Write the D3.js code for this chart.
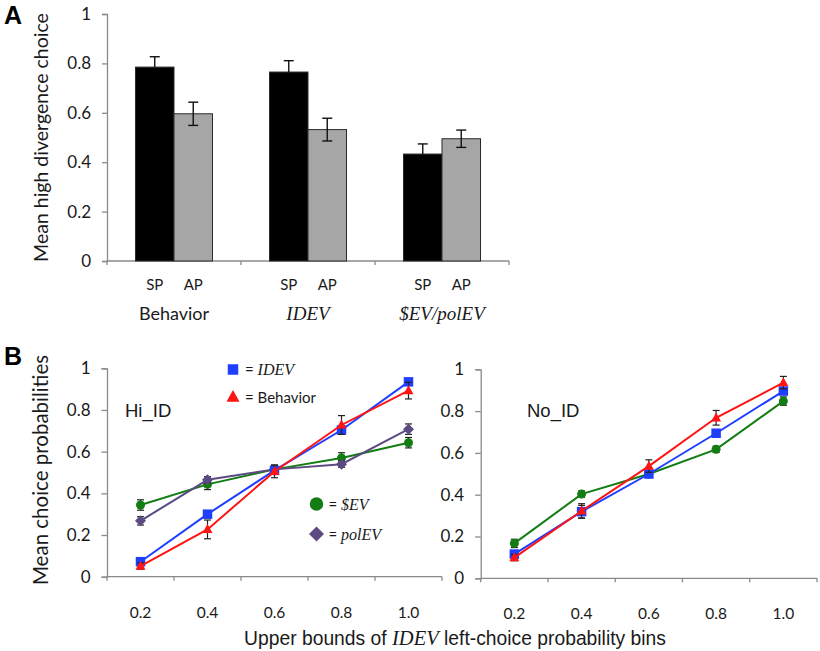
<!DOCTYPE html>
<html><head><meta charset="utf-8">
<script src="https://cdn.jsdelivr.net/npm/d3@7/dist/d3.min.js"></script>
<style>
html,body{margin:0;padding:0;background:#fff;}
svg{display:block;}
</style></head>
<body>
<svg id="chart" width="820" height="651"></svg>
<script>
// ---------- Panel A data ----------
const groupsA = ["Behavior", "IDEV", "$EV/polEV"];
const condsA = ["SP", "AP"];
const spValues = [0.785, 0.765, 0.433];
const spErrors = [0.042, 0.046, 0.041];
const apValues = [0.596, 0.532, 0.495];
const apErrors = [0.047, 0.046, 0.035];
const yTicksA = [0, 0.2, 0.4, 0.6, 0.8, 1];

// ---------- Panel B data ----------
const bins = ["0.2", "0.4", "0.6", "0.8", "1.0"];
const yTicksB = [0, 0.2, 0.4, 0.6, 0.8, 1];
// Hi_ID
const hiIDEV = [0.072, 0.300, 0.510, 0.704, 0.935];
const hiIDEVErr = [0.012, 0.015, 0.015, 0.015, 0.012];
const hiBehavior = [0.051, 0.227, 0.505, 0.728, 0.893];
const hiBehaviorErr = [0.015, 0.045, 0.030, 0.045, 0.040];
const hiSEV = [0.344, 0.443, 0.515, 0.570, 0.643];
const hiSEVErr = [0.025, 0.025, 0.020, 0.025, 0.025];
const hiPolEV = [0.268, 0.465, 0.515, 0.540, 0.708];
const hiPolEVErr = [0.020, 0.015, 0.020, 0.015, 0.025];
// No_ID
const noIDEV = [0.116, 0.319, 0.499, 0.694, 0.896];
const noIDEVErr = [0.015, 0.030, 0.015, 0.015, 0.015];
const noBehavior = [0.099, 0.322, 0.537, 0.768, 0.936];
const noBehaviorErr = [0.015, 0.035, 0.030, 0.035, 0.030];
const noSEV = [0.167, 0.403, 0.499, 0.617, 0.848];
const noSEVErr = [0.020, 0.015, 0.015, 0.015, 0.020];

const svg = d3.select("#chart");
const axisColor = "#8a8a8a";
const tickFont = "Lato, 'Open Sans', sans-serif";
const serif = "'Liberation Serif', 'DejaVu Serif', serif";
const sans = "'Liberation Sans', Arial, sans-serif";

// ====== Panel A ======
const xA = d3.scaleBand().domain(groupsA).range([107, 509]);
const xSub = d3.scaleBand().domain(condsA).range([28.5, 105.5]);
const yA = d3.scaleLinear().domain([0, 1]).range([261, 14]);

function styleAxis(g) {
  g.selectAll("path.domain").attr("stroke", axisColor).attr("stroke-width", 1.3);
  g.selectAll(".tick line").attr("stroke", axisColor).attr("stroke-width", 1.3);
  g.selectAll(".tick text").attr("fill", "#1a1a1a").style("font-family", tickFont);
}

const gYA = svg.append("g").attr("transform", "translate(107,0)")
  .call(d3.axisLeft(yA).tickValues(yTicksA).tickSize(5).tickPadding(11).tickFormat(d3.format("~g")));
styleAxis(gYA);
gYA.selectAll(".tick text").style("font-size", "17px");

// x axis with ticks at group boundaries
const gXA = svg.append("g");
gXA.append("line").attr("x1", xA.range()[0]).attr("x2", xA.range()[1])
  .attr("y1", yA(0)).attr("y2", yA(0)).attr("stroke", axisColor).attr("stroke-width", 1.3);
const boundsA = groupsA.map(g => xA(g)).concat([xA.range()[1]]);
gXA.selectAll("line.tk").data(boundsA).enter().append("line")
  .attr("x1", d => d).attr("x2", d => d).attr("y1", yA(0)).attr("y2", yA(0) + 4)
  .attr("stroke", axisColor).attr("stroke-width", 1.3);

const barData = [];
groupsA.forEach((g, i) => {
  barData.push({g, c: "SP", v: spValues[i], e: spErrors[i]});
  barData.push({g, c: "AP", v: apValues[i], e: apErrors[i]});
});

svg.append("g").selectAll("rect").data(barData).enter().append("rect")
  .attr("x", d => xA(d.g) + xSub(d.c))
  .attr("width", xSub.bandwidth())
  .attr("y", d => yA(d.v))
  .attr("height", d => yA(0) - yA(d.v))
  .attr("fill", d => d.c === "SP" ? "#000" : "#a6a6a6")
  .attr("stroke", "#2a2a2a").attr("stroke-width", 1);

// error bars
const eb = svg.append("g").attr("stroke", "#111").attr("stroke-width", 1.4);
barData.forEach(d => {
  const cx = xA(d.g) + xSub(d.c) + xSub.bandwidth() / 2;
  const lo = d.c === "SP" ? d.v : d.v - d.e;
  eb.append("line").attr("x1", cx).attr("x2", cx).attr("y1", yA(d.v + d.e)).attr("y2", yA(lo));
  eb.append("line").attr("x1", cx - 5).attr("x2", cx + 5).attr("y1", yA(d.v + d.e)).attr("y2", yA(d.v + d.e));
  if (d.c !== "SP")
    eb.append("line").attr("x1", cx - 5).attr("x2", cx + 5).attr("y1", yA(lo)).attr("y2", yA(lo));
});

// condition labels
svg.append("g").selectAll("text").data(barData).enter().append("text")
  .attr("x", d => xA(d.g) + xSub(d.c) + xSub.bandwidth() / 2)
  .attr("y", 290).attr("text-anchor", "middle")
  .style("font-family", tickFont).style("font-size", "15px").attr("fill", "#1a1a1a")
  .text(d => d.c);

// group labels
svg.append("g").selectAll("text").data(groupsA).enter().append("text")
  .attr("x", d => xA(d) + xA.bandwidth() / 2)
  .attr("y", 319.5).attr("text-anchor", "middle")
  .style("font-family", (d, i) => i === 0 ? tickFont : serif)
  .style("font-style", (d, i) => i === 0 ? "normal" : "italic")
  .style("font-size", (d, i) => i === 0 ? "18px" : "19px")
  .attr("fill", "#1a1a1a")
  .text(d => d);

// y title A
svg.append("text").attr("transform", "translate(47.5,137.5) rotate(-90)")
  .attr("text-anchor", "middle").style("font-family", tickFont).style("font-size", "19.5px")
  .attr("fill", "#1a1a1a").text("Mean high divergence choice");

svg.append("text").attr("x", 4).attr("y", 24)
  .style("font-family", sans).style("font-weight", "bold")
  .style("font-size", "25px").text("A");

// ====== Panel B ======
const xBL = d3.scaleBand().domain(bins).range([107, 442]);
const yBL = d3.scaleLinear().domain([0, 1]).range([576.7, 368.3]);
const xBR = d3.scaleBand().domain(bins).range([480.7, 817]);
const yBR = d3.scaleLinear().domain([0, 1]).range([578.3, 369.3]);

function drawAxes(x, y, x0) {
  const gy = svg.append("g").attr("transform", `translate(${x0},0)`)
    .call(d3.axisLeft(y).tickValues(yTicksB).tickSize(5.5).tickPadding(11).tickFormat(d3.format("~g")));
  styleAxis(gy);
  gy.selectAll(".tick text").style("font-size", "17px");
  const gx = svg.append("g").attr("transform", `translate(0,${y(0)})`)
    .call(d3.axisBottom(x).tickSize(0).tickPadding(30));
  styleAxis(gx);
  gx.selectAll(".tick text").style("font-size", "15.5px");
  gx.select("path.domain").remove();
  gx.append("line").attr("x1", x.range()[0]).attr("x2", x.range()[1])
    .attr("stroke", axisColor).attr("stroke-width", 1.3);
  const bounds = bins.map(b => x(b)).concat([x.range()[1]]);
  gx.selectAll("line.tk").data(bounds).enter().append("line")
    .attr("x1", d => d).attr("x2", d => d).attr("y1", 0).attr("y2", 4)
    .attr("stroke", axisColor).attr("stroke-width", 1.3);
}
drawAxes(xBL, yBL, 107);
drawAxes(xBR, yBR, 480.7);

const colBlue = "#1f3fff", colRed = "#ff1414", colGreen = "#137d13", colPurple = "#5c4a82";

function marker(g, type, cx, cy, s, color) {
  if (type === "square") {
    g.append("rect").attr("x", cx - s / 2).attr("y", cy - s / 2).attr("width", s).attr("height", s).attr("fill", color);
  } else if (type === "triangle") {
    const h = s * 0.9;
    g.append("path").attr("d", `M${cx},${cy - h * 0.6}L${cx + s / 2},${cy + h * 0.4}L${cx - s / 2},${cy + h * 0.4}Z`).attr("fill", color);
  } else if (type === "circle") {
    g.append("circle").attr("cx", cx).attr("cy", cy).attr("r", s / 2).attr("fill", color);
  } else if (type === "diamond") {
    g.append("path").attr("d", `M${cx},${cy - s / 2}L${cx + s / 2},${cy}L${cx},${cy + s / 2}L${cx - s / 2},${cy}Z`).attr("fill", color);
  }
}

function drawSeries(x, y, vals, errs, color, type, size) {
  const g = svg.append("g");
  const pts = bins.map((b, i) => ({b, v: vals[i], e: errs[i]}));
  const ge = g.append("g").attr("stroke", "#222").attr("stroke-width", 1.2);
  pts.forEach(p => {
    const cx = x(p.b) + x.bandwidth() / 2;
    ge.append("line").attr("x1", cx).attr("x2", cx).attr("y1", y(p.v + p.e)).attr("y2", y(p.v - p.e));
    ge.append("line").attr("x1", cx - 3.5).attr("x2", cx + 3.5).attr("y1", y(p.v + p.e)).attr("y2", y(p.v + p.e));
    ge.append("line").attr("x1", cx - 3.5).attr("x2", cx + 3.5).attr("y1", y(p.v - p.e)).attr("y2", y(p.v - p.e));
  });
  const line = d3.line().x(p => x(p.b) + x.bandwidth() / 2).y(p => y(p.v));
  g.append("path").datum(pts).attr("d", line).attr("fill", "none").attr("stroke", color).attr("stroke-width", 2);
  pts.forEach(p => marker(g, type, x(p.b) + x.bandwidth() / 2, y(p.v), size, color));
}

// Hi_ID
drawSeries(xBL, yBL, hiSEV, hiSEVErr, colGreen, "circle", 9);
drawSeries(xBL, yBL, hiPolEV, hiPolEVErr, colPurple, "diamond", 11);
drawSeries(xBL, yBL, hiIDEV, hiIDEVErr, colBlue, "square", 9.5);
drawSeries(xBL, yBL, hiBehavior, hiBehaviorErr, colRed, "triangle", 10);
// No_ID
drawSeries(xBR, yBR, noSEV, noSEVErr, colGreen, "circle", 9);
drawSeries(xBR, yBR, noIDEV, noIDEVErr, colBlue, "square", 9.5);
drawSeries(xBR, yBR, noBehavior, noBehaviorErr, colRed, "triangle", 10);

// legend
const leg = svg.append("g");
const legItems = [
  {type: "square", color: colBlue, size: 10.5, x: 233, y: 369.5, label: "IDEV", italic: true},
  {type: "triangle", color: colRed, size: 13, x: 233, y: 397, label: "Behavior", italic: false},
  {type: "circle", color: colGreen, size: 13.5, x: 316.5, y: 504, label: "$EV", italic: true},
  {type: "diamond", color: colPurple, size: 15, x: 316.5, y: 534, label: "polEV", italic: true}
];
legItems.forEach(it => {
  marker(leg, it.type, it.x, it.y, it.size, it.color);
  const t = leg.append("text").attr("x", it.x + 12).attr("y", it.y + 5.5).attr("fill", "#1a1a1a");
  t.append("tspan").style("font-family", tickFont).style("font-size", "15px").text("= ");
  t.append("tspan").style("font-family", it.italic ? serif : tickFont)
    .style("font-style", it.italic ? "italic" : "normal")
    .style("font-size", it.italic ? "16px" : "15px").text(it.label);
});

// panel labels
svg.append("text").attr("x", 125).attr("y", 417).style("font-family", sans).style("font-size", "18.5px").attr("fill", "#1a1a1a").text("Hi_ID");
svg.append("text").attr("x", 527).attr("y", 417).style("font-family", sans).style("font-size", "18.5px").attr("fill", "#1a1a1a").text("No_ID");

svg.append("text").attr("transform", "translate(48,470) rotate(-90)")
  .attr("text-anchor", "middle").style("font-family", tickFont).style("font-size", "20.5px")
  .attr("fill", "#1a1a1a").text("Mean choice probabilities");

const xt = svg.append("text").attr("x", 455).attr("y", 645).attr("text-anchor", "middle")
  .style("font-family", sans).style("font-size", "19.3px").attr("fill", "#1a1a1a");
xt.append("tspan").text("Upper bounds of ");
xt.append("tspan").style("font-family", serif).style("font-style", "italic").style("font-size", "20.5px").text("IDEV");
xt.append("tspan").text(" left-choice probability bins");

svg.append("text").attr("x", 4).attr("y", 365)
  .style("font-family", sans).style("font-weight", "bold").style("font-size", "25px").text("B");
</script>
</body></html>
